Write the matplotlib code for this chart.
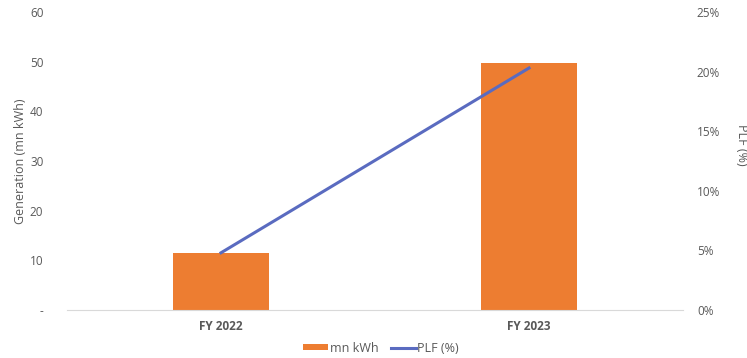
import matplotlib
matplotlib.use("Agg")
import matplotlib.pyplot as plt
from matplotlib.ticker import FuncFormatter

plt.rcParams['font.family'] = ['Open Sans', 'DejaVu Sans']

years = ["FY 2022", "FY 2023"]
generation = [11.5, 49.7]      # mn kWh
plf = [4.8, 20.3]              # PLF (%)

gen_ticks = [0, 10, 20, 30, 40, 50, 60]
plf_ticks = [0, 5, 10, 15, 20, 25]

orange = "#ED7D31"
blue = "#5A6BC0"
grey = "#595959"

fig = plt.figure(figsize=(7.47, 3.58), dpi=100)
ax = fig.add_axes([67/747, 1 - 310/358, 616/747, 298/358])
ax2 = ax.twinx()

x = list(range(len(years)))
bars = ax.bar(x, generation, width=0.31, color=orange, label="mn kWh", zorder=2)
line, = ax2.plot(x, plf, color=blue, lw=2.2, label="PLF (%)", zorder=3)

ax.set_xlim(-0.5, 1.5)
ax.set_ylim(0, 60)
ax2.set_ylim(0, 25)
ax.set_yticks(gen_ticks)
ax2.set_yticks(plf_ticks)
ax.yaxis.set_major_formatter(FuncFormatter(lambda v, p: "-" if v == 0 else f"{v:.0f}"))
ax2.yaxis.set_major_formatter(FuncFormatter(lambda v, p: f"{v:.0f}%"))

ax.set_xticks(x)
ax.set_xticklabels(years, fontsize=10, fontweight="bold", color="#333333")

for a in (ax, ax2):
    for s in a.spines.values():
        s.set_visible(False)
    a.tick_params(length=0, labelsize=8.5, colors=grey)
ax.spines["bottom"].set_visible(True)
ax.spines["bottom"].set_color("#D9D9D9")
ax.tick_params(axis="y", pad=17)
ax2.tick_params(axis="y", pad=10)
ax.tick_params(axis="x", pad=7)

ax.set_ylabel("Generation (mn kWh)", fontsize=9, color=grey, labelpad=2)
fig.text(742/747, 1 - 145/358, "PLF (%)", rotation=270, fontsize=9, color=grey,
         ha="center", va="center")

ax.set_zorder(ax2.get_zorder() - 1)
ax2.patch.set_visible(False)

fig.legend([bars, line], ["mn kWh", "PLF (%)"], loc="center",
           bbox_to_anchor=(381/747, 1 - 348/358), ncol=2, frameon=False,
           fontsize=9, labelcolor=grey, handlelength=2.0, handleheight=0.45,
           columnspacing=1.0, handletextpad=0.1)

fig.savefig("out.png", dpi=100)
